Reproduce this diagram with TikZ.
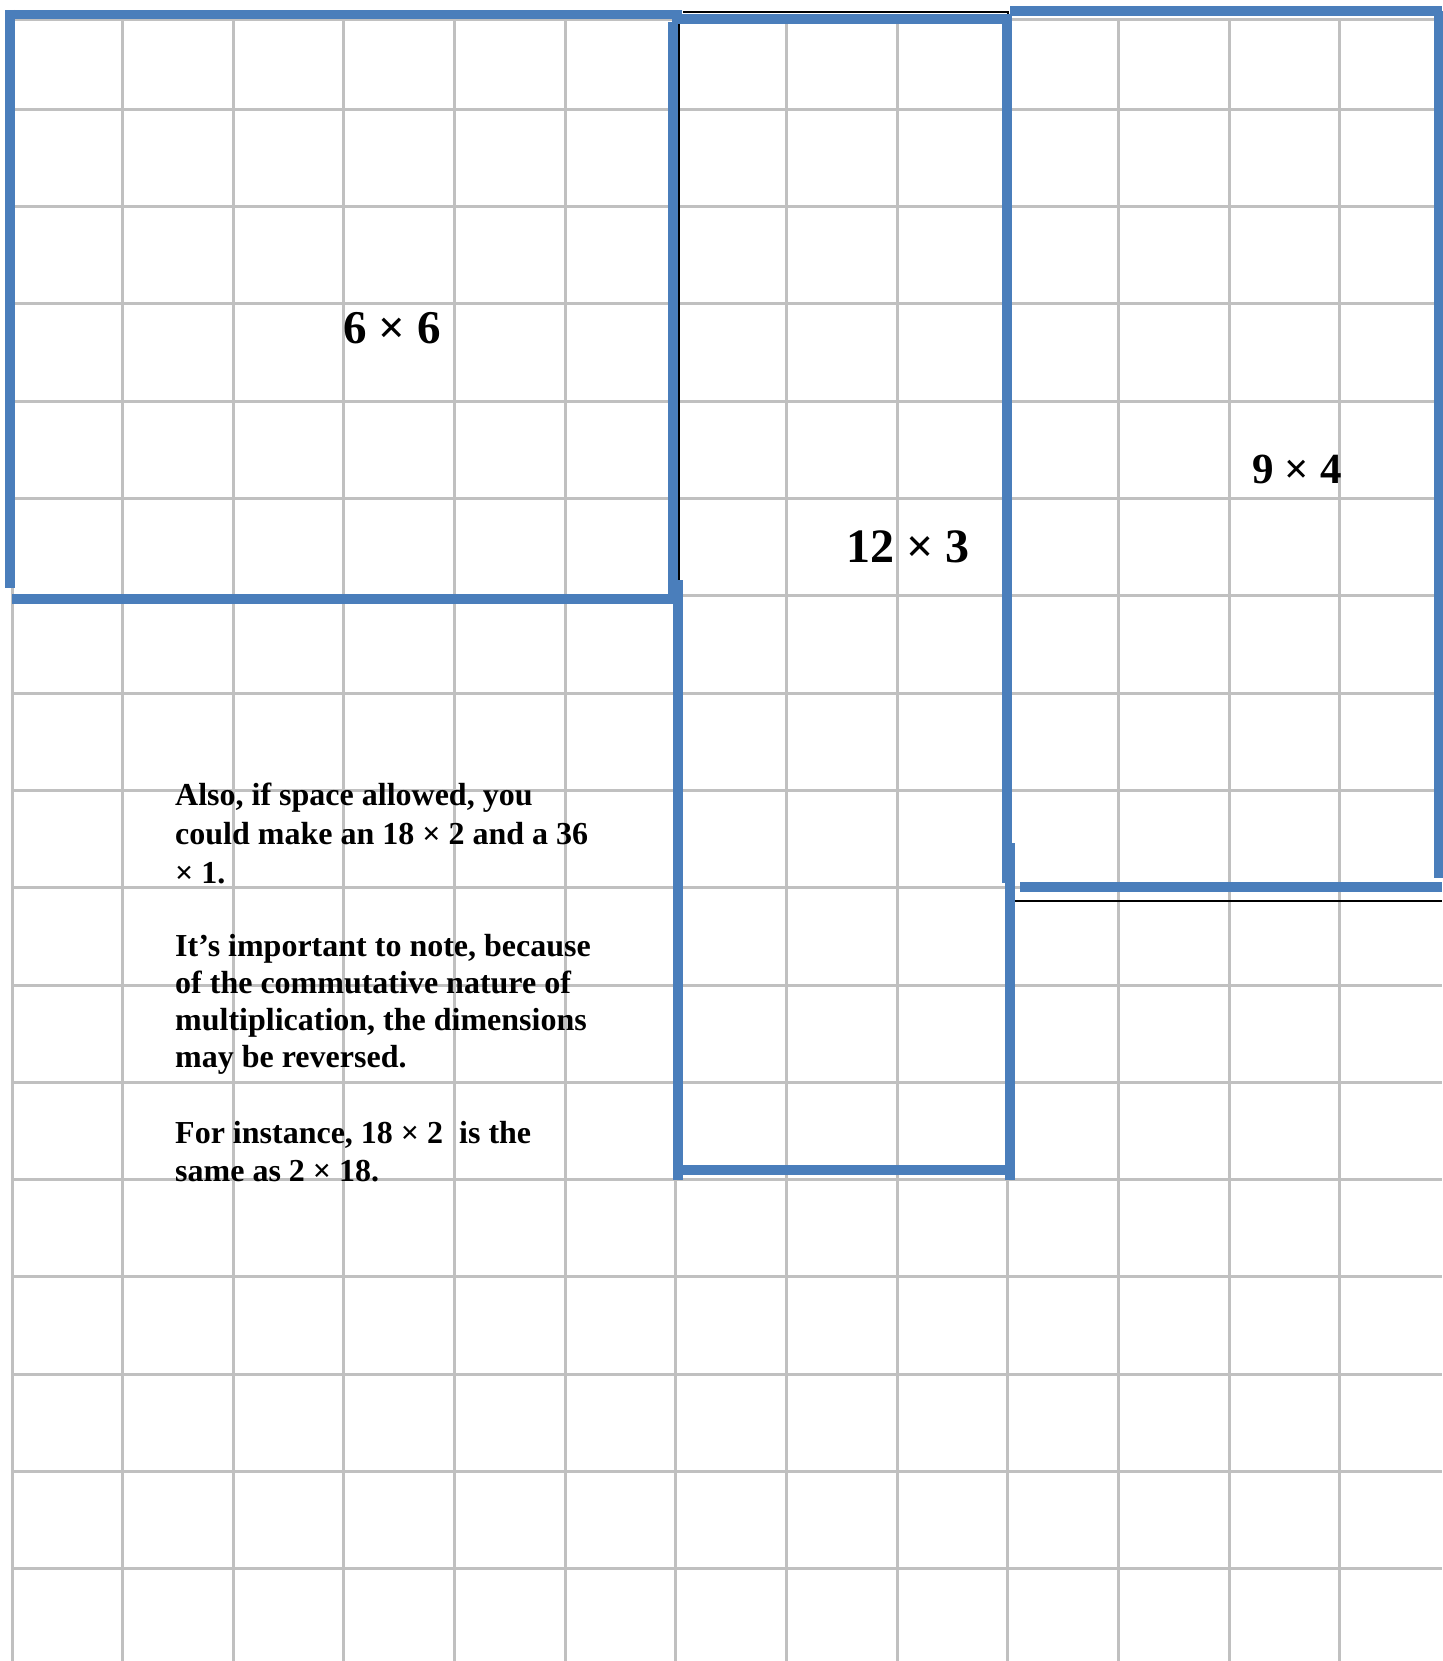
\documentclass[tikz,border=0pt]{standalone}
\usepackage{fontspec}
\setmainfont{Liberation Serif}
\definecolor{shapeblue}{RGB}{74,126,187}
\definecolor{gridgray}{RGB}{192,192,192}
\tikzset{
  gridline/.style={gridgray, line width=3pt},
  outline/.style={shapeblue, line width=9.5pt},
  tableline/.style={black, line width=1.2pt},
  dimlabel/.style={inner sep=0pt, anchor=base},
  notetext/.style={inner sep=0pt, anchor=base west, align=left},
}
\begin{document}
\begin{tikzpicture}[x=1pt,y=-1pt]
\useasboundingbox (0,0) rectangle (1442,1661);
\fill[white] (0,0) rectangle (1442,1661);
% squared paper
\foreach \i in {0,...,12}
  \draw[gridline] ({12+110.66*\i},20) -- ({12+110.66*\i},1661);
\draw[gridline] (12,20) -- (1442,20);
\foreach \j in {1,...,16}
  \draw[gridline] (12,{12+97.3*\j}) -- (1442,{12+97.3*\j});
% table borders
\draw[tableline] (683,12) -- (1008,12) -- (1008,22);
\draw[tableline] (679,22) -- (679,580);
\draw[tableline] (1015,901) -- (1442,901);
% 6 x 6
\draw[outline] (5,14.5) -- (682,14.5);
\draw[outline] (10,10) -- (10,588);
\draw[outline] (673,22) -- (673,600);
\draw[outline] (12,599) -- (678,599);
% 12 x 3
\draw[outline] (672,19) -- (1012,19);
\draw[outline] (678,580) -- (678,1180);
\draw[outline] (1007,22) -- (1007,883);
\draw[outline] (1010,843) -- (1010,1180);
\draw[outline] (673,1170) -- (1015,1170);
% 9 x 4
\draw[outline] (1010,11) -- (1442,11);
\draw[outline] (1439,11) -- (1439,878);
\draw[outline] (1020,887) -- (1442,887);
% labels
\node[dimlabel, font=\bfseries\fontsize{47}{56}\selectfont] (sixbysix) at (392,343) {6 × 6};
\node[dimlabel, font=\bfseries\fontsize{48}{56}\selectfont] (twelvebythree) at (908,562) {12 × 3};
\node[dimlabel, font=\bfseries\fontsize{43}{52}\selectfont] (ninebyfour) at (1297,483) {9 × 4};
% note (base anchor sits on the last line)
\node[notetext, font=\bfseries\fontsize{32}{39}\selectfont] (alsonote) at (175,883)
  {Also, if space allowed, you\\could make an 18 × 2 and a 36\\× 1.};
\node[notetext, font=\bfseries\fontsize{32}{36.7}\selectfont] (commnote) at (175,1067)
  {It’s important to note, because\\of the commutative nature of\\multiplication, the dimensions\\may be reversed.};
\node[notetext, font=\bfseries\fontsize{32}{38}\selectfont] (instnote) at (175,1181)
  {For instance, 18 × 2\ \ is the\\same as 2 × 18.};
\end{tikzpicture}
\end{document}
